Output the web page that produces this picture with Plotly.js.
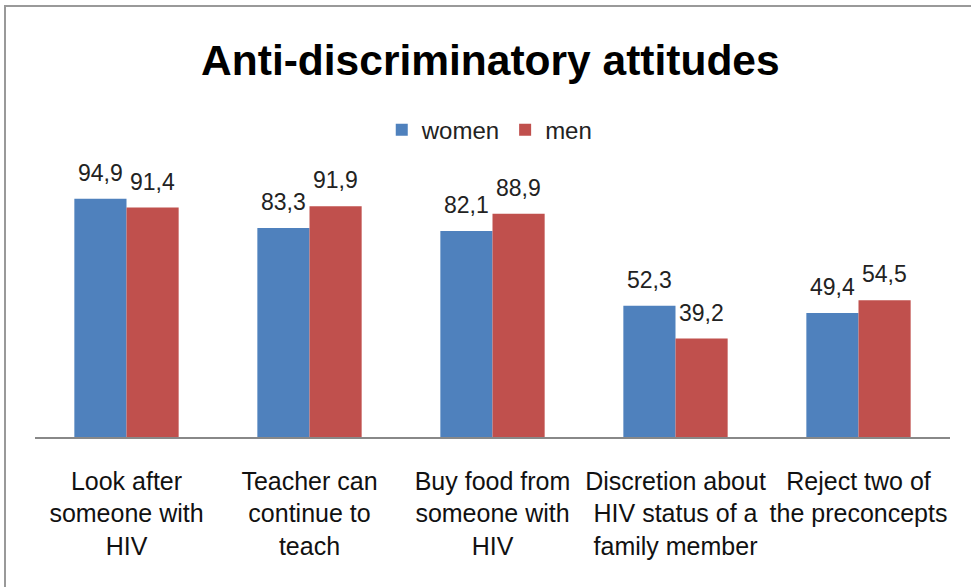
<!DOCTYPE html>
<html>
<head>
<meta charset="utf-8">
<script src="https://cdn.plot.ly/plotly-3.0.1.min.js"></script>
<style>
html,body{margin:0;padding:0;background:#fff;}
#wrap{position:relative;width:971px;height:587px;overflow:hidden;}
#frame{position:absolute;left:4px;top:5px;right:0;bottom:0;border-top:2px solid #999;border-left:2px solid #999;pointer-events:none;z-index:5;}
#chart{position:absolute;left:0;top:0;width:971px;height:587px;}
</style>
</head>
<body>
<div id="wrap"><div id="chart"></div><div id="frame"></div></div>
<script>
const categories = [
  "Look after<br>someone with<br>HIV",
  "Teacher can<br>continue to<br>teach",
  "Buy food from<br>someone with<br>HIV",
  "Discretion about<br>HIV status of a<br>family member",
  "Reject two of<br>the preconcepts"
];
const women = [94.9, 83.3, 82.1, 52.3, 49.4];
const men = [91.4, 91.9, 88.9, 39.2, 54.5];
const seriesNames = ["women", "men"];
const colors = ["#4F81BD", "#C0504D"];

const font = "Liberation Sans, Arial, sans-serif";
const BARGAP = 0.43;
const series = [women, men];

const traces = series.map((vals, i) => ({
  type: "bar",
  name: seriesNames[i],
  x: categories,
  y: vals,
  marker: {color: colors[i]},
  hoverinfo: "none"
}));

// value labels placed above each bar (position computed from the data and the grouping)
const barW = (1 - BARGAP) / series.length;
const annotations = [];
series.forEach((vals, i) => {
  const off = -(1 - BARGAP) / 2 + barW * (i + 0.5);
  vals.forEach((v, j) => {
    annotations.push({
      xref: "x", yref: "y", x: j + off, y: v,
      text: v.toFixed(1).replace(".", ","),
      showarrow: false, xanchor: "center", yanchor: "bottom", yshift: 11,
      font: {family: font, size: 23, color: "#222"}
    });
  });
});

const layout = {
  width: 971, height: 587,
  margin: {l: 35, r: 21, t: 186, b: 150},
  paper_bgcolor: "#fff", plot_bgcolor: "#fff",
  separators: ",.",
  barmode: "group",
  bargap: BARGAP,
  bargroupgap: 0,
  showlegend: true,
  title: {text: "<b>Anti-discriminatory attitudes</b>", x: 0.505, xanchor: "center", y: 0.897, yanchor: "middle",
          font: {family: font, size: 42.5, color: "#000"}},
  legend: {orientation: "h", x: 0.497, xanchor: "center", y: 1.223, yanchor: "middle",
           font: {family: font, size: 24, color: "#222"}, itemwidth: 30, traceorder: "normal"},
  xaxis: {showline: true, linecolor: "#888", linewidth: 1.5, ticks: "", showgrid: false,
          tickfont: {family: font, size: 25, color: "#111"}, ticklabelstandoff: 21, automargin: false},
  yaxis: {range: [0, 100], visible: false, showgrid: false, zeroline: false, fixedrange: true},
  annotations: annotations
};

Plotly.newPlot("chart", traces, layout, {staticPlot: true, displayModeBar: false});
</script>
</body>
</html>
